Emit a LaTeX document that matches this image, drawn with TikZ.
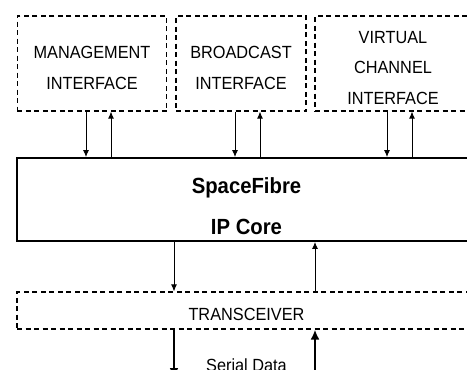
\documentclass[tikz,border=0pt]{standalone}
\usepackage{fontspec}
\setmainfont{Liberation Sans}
\usetikzlibrary{arrows.meta}

\tikzset{
  lbl/.style={font=\fontsize{16.3}{28.2}\selectfont, align=center, yscale=1.08, transform shape},
  txt/.style={lbl, yshift=-4pt},
  boldtxt/.style={font=\fontsize{20.3}{37.5}\selectfont\bfseries, align=center, yscale=1.08, transform shape, yshift=-6pt},
  ifbox/.style={draw, dash pattern=on 5pt off 3.5pt, line width=1.2pt, minimum height=95pt},
  corebox/.style={draw, line width=1.9pt, minimum width=459pt, minimum height=83pt},
  sig/.style={line width=0.9pt, -{Latex[length=7pt,width=6pt]}},
  serial/.style={line width=2.8pt, -{Latex[length=10pt,width=9pt]}}
}

\begin{document}
\begin{tikzpicture}[x=1pt,y=-1pt]
  \useasboundingbox (0,0) rectangle (467,370);
  \clip (0,0) rectangle (467,370);

  %%%%% interfaces %%%%%
  \node[ifbox, minimum width=149.5pt, label={[txt]center:{MANAGEMENT\\INTERFACE}}] (mgmt) at (92,63.5) {};
  \node[ifbox, minimum width=130pt, label={[txt]center:{BROADCAST\\INTERFACE}}] (bcast) at (241,63.5) {};
  \node[ifbox, minimum width=156pt, label={[txt]center:{VIRTUAL\\CHANNEL\\INTERFACE}}] (vchan) at (393,63.5) {};

  %%%%% core and transceiver %%%%%
  \node[corebox, label={[boldtxt]center:{SpaceFibre\\IP Core}}] (core) at (246.5,199.5) {};
  \node[ifbox, minimum width=459pt, minimum height=37pt, label={[txt]center:TRANSCEIVER}] (trx) at (246.5,310.5) {};

  \foreach \n in {mgmt,bcast,vchan}{
    \draw[sig] ([xshift=-6pt]\n.south) -- ([xshift=-6pt]\n.south |- core.north);
    \draw[sig] ([xshift=19pt]\n.south |- core.north) -- ([xshift=19pt]\n.south);
  }

  \draw[sig] ([xshift=-72.5pt]core.south) -- ([xshift=-72.5pt]core.south |- trx.north);
  \draw[sig] ([xshift=68.5pt]core.south |- trx.north) -- ([xshift=68.5pt]core.south);

  %%%%% serial link %%%%%
  \coordinate (sdout) at (174,378);
  \coordinate (sdin) at (315,378);
  \draw[serial] (trx.south -| sdout) -- (sdout);
  \draw[serial] (sdin) -- (trx.south -| sdin);
  \node[lbl, anchor=base] (serdata) at (246.5,371.7) {Serial Data};
\end{tikzpicture}
\end{document}
